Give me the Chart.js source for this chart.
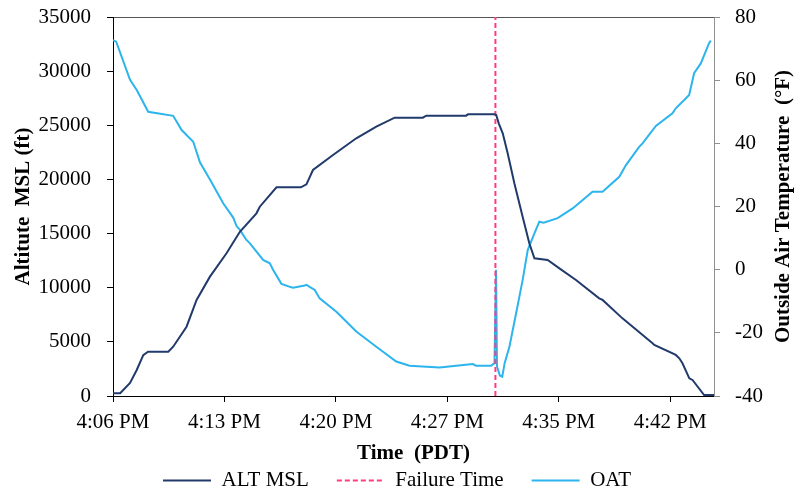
<!DOCTYPE html>
<html>
<head>
<meta charset="utf-8">
<script src="https://cdn.jsdelivr.net/npm/chart.js"></script>
<style>
  html, body { margin: 0; padding: 0; background: #fff; }
  #wrap { width: 794px; height: 492px; position: relative; }
</style>
</head>
<body>
<div id="wrap"><canvas id="flightChart"></canvas></div>
<script>
// --- data (minutes after 4:06 PM) ---
const altTime = [0, 0.45, 1.07, 1.49, 1.9, 2.2, 3.47, 3.78, 4.62, 5.25, 6.08, 7.13, 7.97, 9.01, 9.22, 10.27,
  11.8, 12.15, 12.56, 13.82, 15.28, 16.54, 17.69, 19.46, 19.68, 22.18, 22.3, 23.96, 24.07, 24.23, 24.48,
  24.79, 25.21, 25.73, 26.15, 26.47, 27.3, 28.04, 29.08, 30.54, 30.75, 32.0, 33.89, 34.0, 35.35, 35.57,
  35.77, 36.2, 36.4, 37.13, 37.75];
const altFeet = [250, 250, 1200, 2400, 3780, 4090, 4090, 4550, 6400, 8870, 11000, 13180, 15170, 16870, 17480, 19270,
  19270, 19550, 20870, 22260, 23800, 24870, 25700, 25700, 25890, 25890, 26010, 26010, 25950, 25180, 24260,
  22410, 19640, 16560, 14100, 12720, 12560, 11790, 10710, 9020, 8870, 7170, 4870, 4710, 3790, 3480,
  3020, 1630, 1480, 90, 90];

const oatTime = [0, 0.2, 1.07, 1.49, 2.21, 3.78, 4.31, 5.04, 5.46, 6.08, 6.92, 7.55, 7.76, 7.97, 8.38, 8.59,
  9.43, 9.85, 10.06, 10.58, 11.21, 11.31, 12.04, 12.15, 12.67, 12.98, 14.03, 15.28, 16.54, 17.79, 18.63,
  20.51, 21.56, 22.6, 22.8, 23.75, 23.96, 24.06, 24.12, 24.3, 24.45, 24.6, 24.9, 25.32, 25.73, 26.05,
  26.47, 26.78, 27.05, 27.93, 28.87, 30.12, 30.75, 31.8, 32.22, 33.05, 33.26, 34.1, 35.14, 35.35, 35.88,
  36.19, 36.5, 36.92, 37.44, 37.55];
const oatTemp = [72.7, 72.2, 60.1, 56.9, 50.0, 48.7, 44.2, 40.5, 34.0, 28.6, 21.0, 16.5, 13.8, 12.6, 9.4, 8.4,
  3.1, 2.0, -0.1, -4.5, -5.6, -5.7, -5.0, -4.8, -6.4, -9.1, -13.3, -19.6, -24.4, -29.1, -30.4,
  -31.0, -30.4, -29.9, -30.4, -30.4, -29.6, 0, -30.7, -33.5, -33.9, -29.6, -24.4, -13.8, -3.3, 6.2,
  11.5, 15.2, 14.9, 16.3, 19.4, 24.7, 24.7, 29.4, 33.1, 38.9, 40.0, 45.5, 49.5, 51.1, 53.7,
  55.3, 62.2, 65.3, 71.7, 72.5];

const failureTime = 24.02;

const tickMinutes = [0, 7, 14, 21, 28, 35];
const tickLabels = ['4:06 PM', '4:13 PM', '4:20 PM', '4:27 PM', '4:35 PM', '4:42 PM'];

const altAxisTitle = 'Altitute  MSL (ft)';
const oatAxisTitle = 'Outside Air Temperature  (°F)';
const timeAxisTitle = 'Time  (PDT)';

const FONT = "'Liberation Serif', 'Times New Roman', serif";

// right-hand title reads bottom-to-top like the left one
const rightTitle = {
    id: 'rightTitle',
    afterDraw(chart) {
        const { ctx, chartArea } = chart;
        ctx.save();
        ctx.translate(chart.width - 10, (chartArea.top + chartArea.bottom) / 2);
        ctx.rotate(-Math.PI / 2);
        ctx.font = 'bold 21px ' + FONT;
        ctx.fillStyle = '#000';
        ctx.textAlign = 'center';
        ctx.textBaseline = 'middle';
        ctx.fillText(oatAxisTitle, 0, 0);
        ctx.restore();
    }
};

// y axes: fixed width, and don't let label padding push the plot area down
const fitY = width => axis => {
    axis.width = width;
    axis.paddingTop = 0;
    axis.paddingBottom = 0;
};

new Chart(document.getElementById('flightChart'), {
    type: 'line',
    data: {
        datasets: [
            {
                label: 'ALT MSL',
                data: altTime.map((t, i) => ({ x: t, y: altFeet[i] })),
                borderColor: '#213A6B',
                borderWidth: 2,
                pointRadius: 0,
                yAxisID: 'y'
            },
            {
                label: 'Failure Time',
                data: [{ x: failureTime, y: 0 }, { x: failureTime, y: 35000 }],
                borderColor: '#FF3D80',
                borderWidth: 2,
                borderDash: [5, 3],
                pointRadius: 0,
                yAxisID: 'y'
            },
            {
                label: 'OAT',
                data: oatTime.map((t, i) => ({ x: t, y: oatTemp[i] })),
                borderColor: '#2CB4EC',
                borderWidth: 2,
                pointRadius: 0,
                yAxisID: 'y1'
            }
        ]
    },
    options: {
        responsive: true,
        maintainAspectRatio: false,
        animation: false,
        layout: { padding: { top: 17, left: 0, right: 0, bottom: 0 } },
        scales: {
            x: {
                type: 'linear',
                min: 0,
                max: 37.75,
                afterBuildTicks: axis => { axis.ticks = tickMinutes.map(v => ({ value: v })); },
                afterFit: axis => { axis.height = 46; },
                ticks: {
                    autoSkip: false,
                    maxRotation: 0,
                    padding: 8,
                    color: '#000',
                    font: { family: FONT, size: 21 },
                    callback: value => tickLabels[tickMinutes.indexOf(value)]
                },
                grid: { display: true, drawOnChartArea: false, drawTicks: true, tickLength: 6, color: '#000' },
                border: { color: '#000', width: 1 },
                title: {
                    display: true,
                    text: timeAxisTitle,
                    color: '#000',
                    font: { family: FONT, size: 21, weight: 'bold' },
                    padding: { top: 0, bottom: -24 }
                }
            },
            xTop: {
                type: 'linear',
                axis: 'x',
                position: 'top',
                min: 0,
                max: 37.75,
                afterFit: axis => { axis.height = 0; },
                ticks: { display: false },
                grid: { display: false },
                border: { color: '#555', width: 1 }
            },
            y: {
                position: 'left',
                min: 0,
                max: 35000,
                afterFit: fitY(113),
                ticks: {
                    stepSize: 5000,
                    padding: 16,
                    color: '#000',
                    font: { family: FONT, size: 21 },
                    callback: value => String(value)
                },
                grid: { display: true, drawOnChartArea: false, drawTicks: true, tickLength: 6, color: '#000' },
                border: { color: '#000', width: 1 },
                title: {
                    display: true,
                    text: altAxisTitle,
                    color: '#000',
                    font: { family: FONT, size: 21, weight: 'bold' },
                    padding: { top: 11, bottom: 0 }
                }
            },
            y1: {
                position: 'right',
                min: -40,
                max: 80,
                afterFit: fitY(80),
                ticks: {
                    stepSize: 20,
                    padding: 15,
                    color: '#000',
                    font: { family: FONT, size: 21 }
                },
                grid: { display: true, drawOnChartArea: false, drawTicks: true, tickLength: 6, color: '#8f8f8f' },
                border: { color: '#8f8f8f', width: 1 }
            }
        },
        plugins: {
            legend: {
                position: 'bottom',
                maxHeight: 50,
                labels: {
                    usePointStyle: true,
                    pointStyleWidth: 48,
                    padding: 28,
                    color: '#000',
                    font: { family: FONT, size: 21 },
                    generateLabels: chart => chart.data.datasets.map((ds, i) => ({
                        text: ds.label,
                        strokeStyle: ds.borderColor,
                        fillStyle: ds.borderColor,
                        lineWidth: 2,
                        lineDash: ds.borderDash || [],
                        pointStyle: 'line',
                        fontColor: '#000',
                        hidden: false,
                        datasetIndex: i
                    }))
                }
            },
            tooltip: { enabled: false }
        }
    },
    plugins: [rightTitle]
});
</script>
</body>
</html>
